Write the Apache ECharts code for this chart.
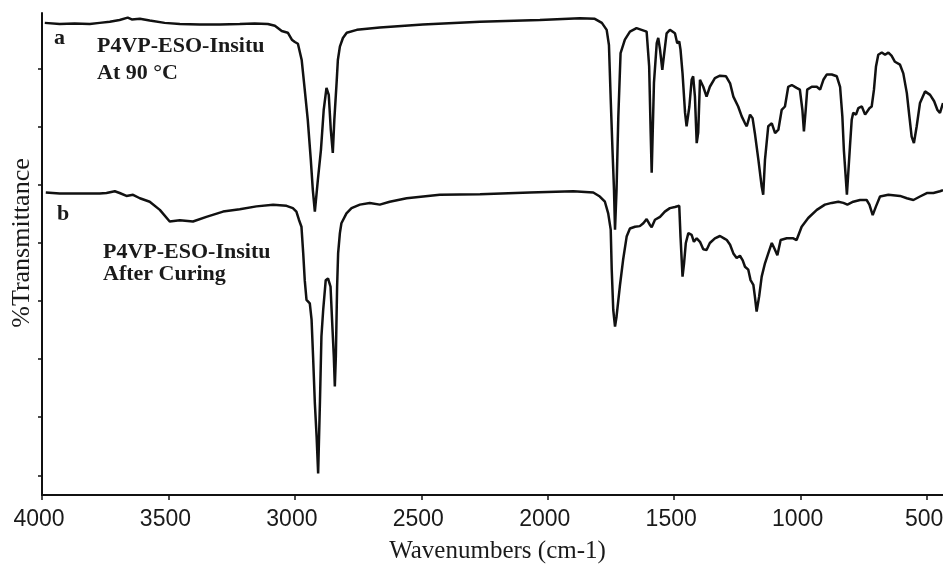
<!DOCTYPE html>
<html>
<head>
<meta charset="utf-8">
<title>FTIR P4VP-ESO-Insitu</title>
<script src="https://cdn.jsdelivr.net/npm/echarts@6/dist/echarts.min.js"></script>
<style>
  html, body { margin: 0; padding: 0; background: #fff; }
  #chart { width: 943px; height: 569px; }
</style>
</head>
<body>
<div id="chart"></div>
<script>
// wavenumber (cm-1), %T (arbitrary units, tick every 10)
const spectrumA = [
  [3989,77.9],[3930,77.7],[3871,77.8],[3811,77.7],[3772,77.9],[3732,78.1],[3693,78.4],[3661,78.8],[3645,78.5],[3613,78.6],
  [3574,78.3],[3515,77.9],[3455,77.7],[3376,77.6],[3297,77.6],[3218,77.7],[3159,77.8],[3107,77.7],[3079,77.4],[3052,76.5],
  [3028,76.2],[3012,75.0],[3000,74.6],[2988,74.3],[2973,71.5],[2961,66.4],[2949,61.2],[2937,54.3],[2929,49.1],[2921,45.4],
  [2909,50.9],[2897,56.0],[2886,62.9],[2875,66.7],[2866,65.5],[2858,59.5],[2850,55.5],[2844,61.2],[2835,67.6],[2830,71.5],
  [2822,73.8],[2810,75.3],[2795,76.2],[2755,76.7],[2664,77.1],[2494,77.6],[2268,78.1],[2031,78.4],[1873,78.7],[1814,78.6],
  [1786,77.9],[1767,76.7],[1758,74.1],[1751,64.7],[1744,56.0],[1738,49.1],[1734,42.3],[1728,49.1],[1721,61.7],[1712,72.7],
  [1695,75.0],[1675,76.4],[1649,77.0],[1629,76.7],[1609,76.4],[1599,70.4],[1593,59.0],[1589,52.1],[1585,59.0],[1580,67.6],
  [1569,74.4],[1563,75.3],[1556,73.3],[1547,69.8],[1541,72.1],[1530,76.1],[1517,76.7],[1497,76.1],[1488,74.4],[1480,74.7],
  [1475,73.3],[1467,69.2],[1457,62.4],[1451,60.1],[1440,63.5],[1431,68.1],[1425,68.7],[1418,65.2],[1411,57.2],[1405,59.0],
  [1398,68.1],[1391,68.4],[1385,66.9],[1372,65.2],[1359,66.9],[1339,68.4],[1319,68.8],[1295,68.7],[1279,67.5],[1266,65.2],
  [1247,63.5],[1233,61.8],[1220,60.6],[1213,60.1],[1200,62.1],[1190,61.5],[1181,58.9],[1167,54.3],[1154,49.7],[1148,48.3],
  [1141,54.3],[1128,60.1],[1114,60.6],[1101,58.9],[1088,59.5],[1075,62.9],[1062,63.5],[1049,66.9],[1035,67.2],[1016,66.7],
  [1003,66.4],[993,62.9],[987,59.2],[980,62.9],[974,66.4],[956,66.9],[936,66.9],[923,66.4],[910,68.1],[897,69.0],
  [877,69.0],[857,68.7],[844,66.9],[835,61.8],[829,56.0],[821,50.9],[817,48.3],[805,56.6],[798,61.2],[792,62.4],
  [781,62.1],[772,63.2],[758,63.5],[745,62.1],[739,61.8],[728,63.2],[719,63.5],[710,66.4],[702,70.4],[693,72.4],
  [679,72.8],[666,72.4],[653,72.8],[640,72.2],[627,71.2],[607,70.7],[594,69.2],[580,65.8],[570,61.8],[561,58.3],
  [552,57.2],[541,60.1],[528,64.1],[508,66.1],[488,65.5],[472,64.4],[459,62.9],[449,62.4],[437,64.1]
];

const spectrumB = [
  [3985,48.7],[3930,48.5],[3877,48.5],[3811,48.5],[3772,48.5],[3745,48.6],[3712,48.9],[3693,48.6],[3666,48.1],[3640,48.3],
  [3613,47.7],[3574,47.1],[3534,45.7],[3495,43.7],[3455,43.9],[3403,43.7],[3350,44.5],[3284,45.4],[3218,45.8],[3152,46.3],
  [3086,46.6],[3033,46.4],[3008,46.0],[2994,45.4],[2984,44.0],[2974,42.8],[2967,38.2],[2961,33.6],[2954,30.2],[2941,29.6],
  [2934,26.8],[2928,20.4],[2921,12.4],[2914,6.6],[2908,0.3],[2901,12.4],[2895,23.9],[2888,28.5],[2878,33.6],[2869,33.9],
  [2859,32.5],[2853,26.8],[2846,20.4],[2842,15.3],[2838,20.4],[2833,32.5],[2829,38.2],[2822,41.7],[2816,43.4],[2796,45.1],
  [2776,46.0],[2743,46.6],[2704,46.9],[2664,46.6],[2625,47.1],[2558,47.7],[2427,48.3],[2268,48.4],[2071,48.7],[1899,48.9],
  [1820,48.7],[1794,48.0],[1774,47.1],[1761,45.1],[1751,42.3],[1747,35.4],[1741,28.5],[1734,25.6],[1728,27.3],[1715,32.5],
  [1702,37.1],[1688,41.1],[1675,42.5],[1655,42.8],[1636,42.9],[1622,43.4],[1609,44.1],[1596,43.1],[1589,42.7],[1576,44.0],
  [1556,44.5],[1537,45.4],[1517,46.0],[1497,46.2],[1480,46.4],[1475,41.1],[1467,34.2],[1461,36.5],[1454,40.0],[1444,41.7],
  [1431,41.4],[1422,40.2],[1411,40.8],[1398,40.2],[1385,38.9],[1372,38.8],[1359,40.0],[1339,40.8],[1319,41.2],[1303,40.8],
  [1292,40.5],[1279,39.7],[1266,38.2],[1253,37.4],[1240,37.8],[1229,37.0],[1220,35.9],[1213,36.2],[1207,35.4],[1198,33.6],
  [1187,32.8],[1181,30.8],[1174,28.2],[1164,30.8],[1154,34.2],[1141,36.5],[1128,38.2],[1114,40.0],[1101,38.8],[1092,37.9],
  [1079,40.5],[1055,40.8],[1029,40.8],[1016,40.5],[996,42.8],[970,44.3],[936,45.7],[904,46.6],[877,46.9],[851,47.1],
  [831,46.9],[815,46.6],[792,47.1],[765,47.4],[739,47.4],[728,46.6],[715,44.8],[702,46.3],[686,48.0],[653,48.3],
  [607,48.1],[580,47.7],[554,47.4],[528,48.0],[501,48.6],[475,48.6],[449,48.9],[437,49.1]
];

const xTicks = [500, 1000, 1500, 2000, 2500, 3000, 3500, 4000];
const yTicks = [0, 10, 20, 30, 40, 50, 60, 70];

const serif = '"Liberation Serif", "Times New Roman", serif';
const sans = '"Liberation Sans", Arial, sans-serif';

let chart = echarts.init(document.getElementById('chart'));

// annotation text next to the curves
function label(text, x, y) {
  return {
    type: 'text', x: x, y: y,
    style: {
      text: text, fill: '#1a1a1a',
      font: 'bold 22px ' + serif,
      align: 'left', verticalAlign: 'middle',
      textAlign: 'left', textVerticalAlign: 'middle'
    }
  };
}

chart.setOption({
  animation: false,
  backgroundColor: '#fff',
  grid: { left: 42, right: 0, top: 13, bottom: 74, outerBoundsMode: 'none', containLabel: false },
  xAxis: {
    type: 'value',
    inverse: true,
    min: 437,
    max: 4000,
    axisLine: { show: true, onZero: false, lineStyle: { color: '#111', width: 2 } },
    axisTick: { show: true, length: 5, customValues: xTicks, lineStyle: { color: '#111', width: 1.5 } },
    axisLabel: {
      customValues: xTicks, fontFamily: sans, fontSize: 23, color: '#1a1a1a', margin: 13,
      padding: [0, 6, 0, 0],
      formatter: function (v) { return String(v); }
    },
    splitLine: { show: false },
    name: 'Wavenumbers (cm-1)',
    nameLocation: 'middle',
    nameGap: 44,
    nameTextStyle: { fontFamily: serif, fontSize: 25, color: '#1a1a1a', padding: [0, 0, 0, 10] }
  },
  yAxis: {
    type: 'value',
    min: -3.4,
    max: 79.6,
    axisLine: { show: true, onZero: false, lineStyle: { color: '#111', width: 2 } },
    axisTick: { show: true, inside: false, length: 4, customValues: yTicks, lineStyle: { color: '#111', width: 1.5 } },
    axisLabel: { show: false },
    splitLine: { show: false },
    name: '%Transmittance',
    nameLocation: 'middle',
    nameGap: 7,
    nameTextStyle: { fontFamily: serif, fontSize: 26, color: '#1a1a1a', padding: [0, 0, 0, 22] }
  },
  series: [
    {
      name: 'a', type: 'line', data: spectrumA, showSymbol: false,
      lineStyle: { color: '#111', width: 2.5 }, z: 3
    },
    {
      name: 'b', type: 'line', data: spectrumB, showSymbol: false,
      lineStyle: { color: '#111', width: 2.5 }, z: 3
    }
  ],
  graphic: [
    label('a', 54, 38),
    label('P4VP-ESO-Insitu', 97, 46.5),
    label('At 90 \u00B0C', 97, 73),
    label('b', 57, 214.5),
    label('P4VP-ESO-Insitu', 103, 252.5),
    label('After Curing', 103, 274)
  ]
});
</script>
</body>
</html>
